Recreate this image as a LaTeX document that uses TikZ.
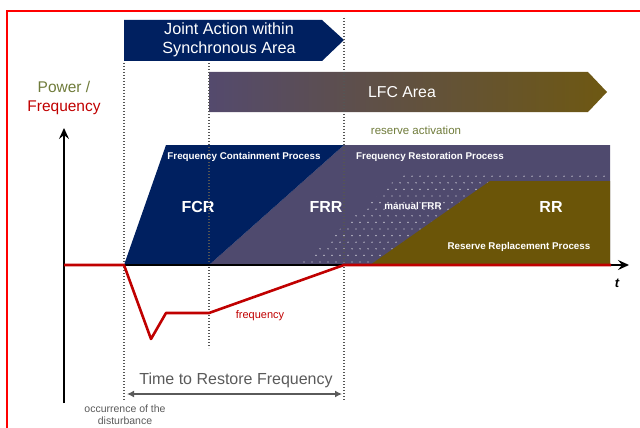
\documentclass[tikz,border=0pt]{standalone}
\usepackage{fontspec}
\setmainfont{Liberation Sans}
\usetikzlibrary{arrows.meta}
\definecolor{navy}{HTML}{002060}
\definecolor{frrcol}{HTML}{4F4A6E}
\definecolor{rrcol}{HTML}{6B5508}
\definecolor{lfcl}{HTML}{544A6D}
\definecolor{lfcr}{HTML}{6E5812}
\definecolor{olivetxt}{HTML}{6F7B3A}
\definecolor{freqred}{HTML}{C00000}
\definecolor{dotgray}{HTML}{555555}
\definecolor{txtgray}{HTML}{5A5A5A}
\tikzset{
  proctxt/.style={text=white,font=\bfseries\fontsize{9.8}{11}\selectfont,inner sep=0pt},
  bigtxt/.style={text=white,font=\bfseries\fontsize{16}{18}\selectfont,inner sep=0pt},
  marker/.style={draw=dotgray,line width=1.5pt,dash pattern=on 1.3pt off 1.7pt},
  axis/.style={line width=1.6pt,-{Stealth[length=11pt,width=10pt,inset=4pt]}}
}
\begin{document}
\begin{tikzpicture}[x=1pt,y=-1pt]
\useasboundingbox (0,0) rectangle (640,428);
% frame
\draw[red,line width=1.5pt] (7,430) -- (7,11) -- (642,11);
% banners
\fill[navy] (124,20) -- (322,20) -- (344,40) -- (322,61) -- (124,61) -- cycle;
\shade[left color=lfcl,right color=lfcr] (209,72) -- (588,72) -- (607,92) -- (588,112) -- (209,112) -- cycle;
\node (joint) [text=white,align=center,font=\fontsize{16.2}{18.5}\selectfont] at (229,40) {Joint Action within\\Synchronous Area};
\node (lfc) [text=white,font=\fontsize{15.8}{18}\selectfont] at (402,92) {LFC Area};
\node (resact) [text=olivetxt,font=\fontsize{11.5}{13}\selectfont] at (416,130) {reserve activation};
% processes
\fill[frrcol] (209,265) -- (344,145) -- (610,145) -- (610,265) -- cycle;
\begin{scope}
  \clip (300,265) -- (405,171) -- (610,171) -- (610,265) -- cycle;
  \foreach \r in {0,...,14}
    \foreach \c in {0,...,40}
      \fill[white!85!frrcol] ({296+8*\c+4*mod(\r,2)},{262-6.6*\r}) circle (0.7pt);
\end{scope}
\fill[rrcol] (370,265) -- (490,181) -- (610,181) -- (610,265) -- cycle;
\fill[navy] (124,265) -- (166,145) -- (344,145) -- (209,265) -- cycle;
\node (fcp) [proctxt] at (244,157) {Frequency Containment Process};
\node (frp) [proctxt] at (430,157) {Frequency Restoration Process};
\node (rrp) [proctxt] at (519,247) {Reserve Replacement Process};
\node (mfrr) [proctxt] at (413,206) {manual FRR};
\node (fcr) [bigtxt] at (198,207) {FCR};
\node (frr) [bigtxt] at (326,207) {FRR};
\node (rr) [bigtxt] at (551,207) {RR};
% time markers
\draw[marker] (124,63) -- (124,400);
\draw[marker] (209,63) -- (209,348);
\draw[marker] (344,18) -- (344,400);
% axes
\coordinate (orig) at (64,265);
\coordinate (ytop) at (64,128);
\coordinate (ybot) at (64,403);
\coordinate (xend) at (629,265);
\draw[axis] (ybot) -- (ytop);
\draw[axis] (orig) -- (xend);
\node (ylbl) [align=center,font=\fontsize{15.5}{19}\selectfont] at (64,98) {\textcolor{olivetxt}{Power /}\\\textcolor{freqred}{Frequency}};
\node (tlbl) [font=\bfseries\itshape\fontsize{13}{14}\selectfont] at (617,283) {t};
% frequency
\coordinate (dist0) at (124,265);
\coordinate (fmin) at (151,339);
\coordinate (fkink) at (166,313);
\coordinate (fflat) at (209,313);
\coordinate (frest) at (344,265);
\coordinate (fend) at (611,265);
\draw[freqred,line width=2.6pt,line join=round] (orig) -- (dist0) -- (fmin) -- (fkink) -- (fflat) -- (frest) -- (fend);
\node (freqlbl) [text=freqred,font=\fontsize{11}{13}\selectfont] at (260,316) {frequency};
% restore time
\coordinate (ttra) at (127,394);
\coordinate (ttrb) at (342,394);
\draw[txtgray,line width=1.5pt,{Latex[length=7pt,width=7pt]}-{Latex[length=7pt,width=7pt]}] (ttra) -- (ttrb);
\node (ttr) [text=txtgray,font=\fontsize{16}{18}\selectfont] at (236,380) {Time to Restore Frequency};
\node (dist) [text=txtgray,align=center,font=\fontsize{10.5}{12}\selectfont,inner sep=0pt] at (125,415) {occurrence of the\\disturbance};
\end{tikzpicture}
\end{document}
